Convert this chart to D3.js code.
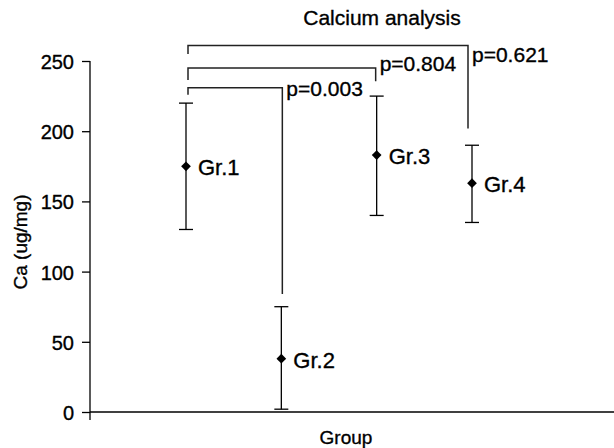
<!DOCTYPE html>
<html>
<head>
<meta charset="utf-8">
<script src="https://cdn.jsdelivr.net/npm/d3@7"></script>
<style>
	body { margin: 0; background: #fff; }
	svg text { font-family: "Liberation Sans", Arial, sans-serif; fill: #000; stroke: #000; stroke-width: 0.35px; }
</style>
</head>
<body>
<svg id="chart" width="614" height="448"></svg>
<script>
// Data
var groups = ["Gr.1", "Gr.2", "Gr.3", "Gr.4"];
var means = [175, 38, 183, 163];
var lows = [130, 2, 140, 135];
var highs = [220, 75, 225, 190];
var yTicks = [0, 50, 100, 150, 200, 250];

// brackets : Gr.1 against the others
var pLabels = ["p=0.003", "p=0.804", "p=0.621"];
var pTargets = [1, 2, 3];             // index of the compared group
var pTop = [231, 245, 261];           // bracket top (ug/mg)
var pLeftEnd = [226, 236.5, 255];     // left leg bottom
var pRightEnd = [84, 235.5, 202];     // right leg bottom

var svg = d3.select("#chart");

var x = d3.scaleLinear().domain([0, 3]).range([186, 472]);
var y = d3.scaleLinear().domain([0, 250]).range([412, 61]);

// axes
var yAxis = d3.axisLeft(y).tickValues(yTicks).tickSize(8).tickPadding(8);
var gy = svg.append("g").attr("transform", "translate(90,0)").call(yAxis);
gy.select(".domain").remove();
gy.selectAll("text").style("font-size", "20px").attr("dy", "0.37em");
gy.selectAll(".tick line").attr("stroke-width", 1.3);
gy.append("line").attr("x1", 0).attr("x2", 0).attr("y1", y(250)).attr("y2", 420)
	.attr("stroke", "#000").attr("stroke-width", 1.3);

svg.append("line")
	.attr("x1", 90).attr("x2", 614)
	.attr("y1", y(0)).attr("y2", y(0))
	.attr("stroke", "#000").attr("stroke-width", 1.3);

// titles
svg.append("text").attr("x", 382).attr("y", 25).attr("text-anchor", "middle")
	.style("font-size", "21px").text("Calcium analysis");
svg.append("text").attr("x", 346).attr("y", 444).attr("text-anchor", "middle")
	.style("font-size", "19px").text("Group");
svg.append("text").attr("transform", "translate(27,242) rotate(-90)").attr("text-anchor", "middle")
	.style("font-size", "19px").text("Ca (ug/mg)");

// error bars
var bars = svg.append("g").selectAll("g").data(groups).enter().append("g");
bars.append("line")
	.attr("x1", function(d, i) { return x(i); })
	.attr("x2", function(d, i) { return x(i); })
	.attr("y1", function(d, i) { return y(lows[i]); })
	.attr("y2", function(d, i) { return y(highs[i]); })
	.attr("stroke", "#000").attr("stroke-width", 1.3);
[lows, highs].forEach(function(arr) {
	bars.append("line")
		.attr("x1", function(d, i) { return x(i) - 7; })
		.attr("x2", function(d, i) { return x(i) + 7; })
		.attr("y1", function(d, i) { return y(arr[i]); })
		.attr("y2", function(d, i) { return y(arr[i]); })
		.attr("stroke", "#000").attr("stroke-width", 1.3);
});
bars.append("path")
	.attr("d", d3.symbol().type(d3.symbolDiamond2).size(60))
	.attr("transform", function(d, i) { return "translate(" + x(i) + "," + y(means[i]) + ")"; })
	.attr("fill", "#000");
bars.append("text")
	.attr("x", function(d, i) { return x(i) + 12; })
	.attr("y", function(d, i) { return y(means[i]) + 9; })
	.style("font-size", "22px")
	.text(function(d) { return d; });

// significance brackets
var rightShift = [1, -1, -4];
var labelDy = [8, 3, 16];
pLabels.forEach(function(lab, k) {
	var x0 = x(0) + 2;
	var x1 = x(pTargets[k]) + rightShift[k];
	var path = d3.path();
	path.moveTo(x0, y(pLeftEnd[k]));
	path.lineTo(x0, y(pTop[k]));
	path.lineTo(x1, y(pTop[k]));
	path.lineTo(x1, y(pRightEnd[k]));
	svg.append("path").attr("d", path.toString())
		.attr("fill", "none").attr("stroke", "#222").attr("stroke-width", 1.5);
	svg.append("text").attr("x", x1 + 4).attr("y", y(pTop[k]) + labelDy[k])
		.style("font-size", "21px").text(lab);
});
</script>
</body>
</html>
